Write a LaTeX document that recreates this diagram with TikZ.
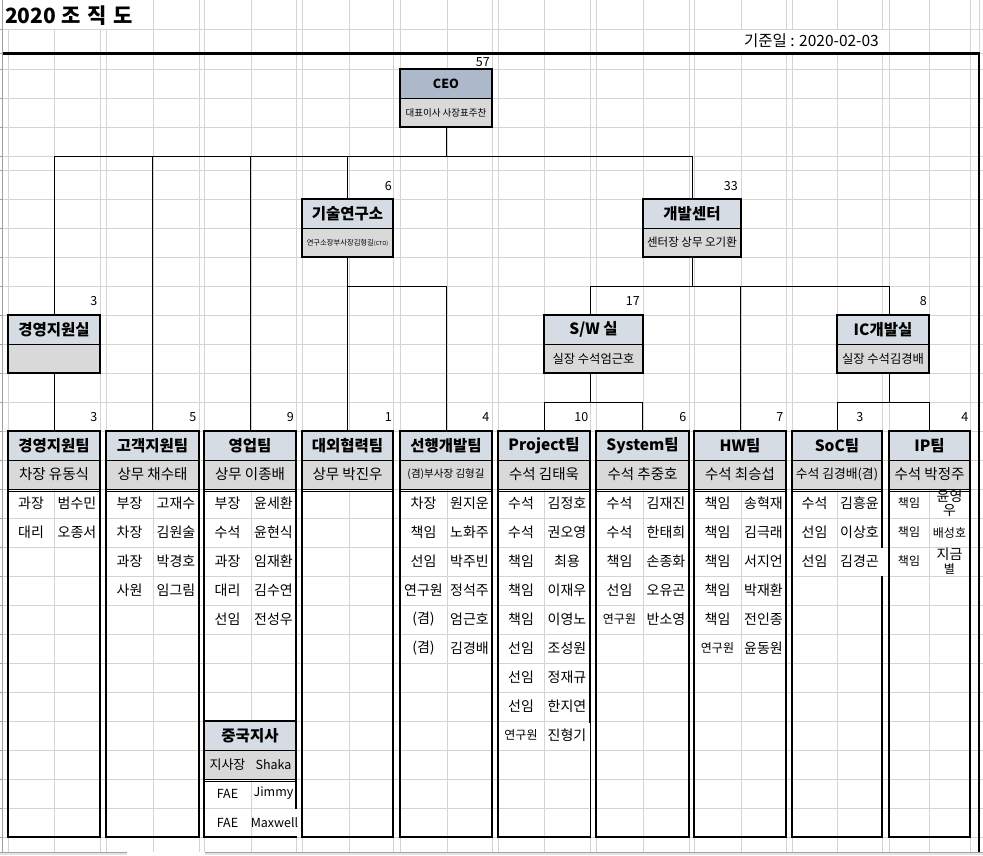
\documentclass[tikz,border=0pt]{standalone}
\usepackage{fontspec}
\setmainfont{Noto Sans CJK KR}
\definecolor{hdrc}{HTML}{D6DCE4}
\definecolor{subc}{HTML}{D9D9D9}
\definecolor{ceoc}{HTML}{ADB9CA}
\definecolor{gridc}{HTML}{D4D4D4}
\definecolor{edgec}{HTML}{A0A0A0}
\definecolor{tabc}{HTML}{E4E4E4}
\newcommand{\smtext}[1]{{\fontsize{12}{12.5}\selectfont #1}}
\newcommand{\teambox}[7]{%
  \pgfmathsetmacro{\tcx}{(#2+#3)/2}%
  \pgfmathsetmacro{\tw}{#3-#2}%
  \node[hd,minimum width=\tw pt] (#1h) at (\tcx,445.5) {#4};
  \node[sb,minimum width=\tw pt] (#1s) at (\tcx,474.5) {#5};
  \draw[dbl] (#2,489) -- (#3,489) (#2,491.6) -- (#3,491.6);
  \draw[thickb] (#2,431) rectangle (#3,837);
  \node[cnt] (#1c) at (#7,417) {#6};
}
\newcommand{\members}[4]{%
  \foreach \rk/\nm [count=\idx] in {#4} {
    \node[mem] (#1r\idx) at (#2,{474.5+29*\idx}) {\rk};
    \node[mem] (#1n\idx) at (#3,{474.5+29*\idx}) {\nm};
  }
}
\newcommand{\upbox}[7]{%
  \pgfmathsetmacro{\tcx}{(#2+#3)/2}%
  \pgfmathsetmacro{\tw}{#3-#2}%
  \node[hd,fill=#7,minimum width=\tw pt] (#1h) at (\tcx,#4+14.5) {#5};
  \node[sb,minimum width=\tw pt] (#1s) at (\tcx,#4+43.5) {#6};
  \draw[thickb] (#1h.north west) rectangle (#1s.south east);
}
\begin{document}
\begin{tikzpicture}[x=1pt,y=-1pt,
  gridline/.style={draw=gridc,line width=1pt},
  box/.style={rectangle,inner sep=0pt,minimum height=29pt,draw=black,line width=0.9pt},
  hd/.style={box,fill=hdrc,font=\bfseries\fontsize{15.5}{17}\selectfont},
  sb/.style={box,fill=subc,font=\fontsize{14.5}{16}\selectfont},
  mem/.style={inner sep=0pt,font=\fontsize{14}{15}\selectfont},
  cnt/.style={inner sep=0pt,anchor=east,font=\fontsize{12.5}{13}\selectfont},
  conn/.style={draw=black,line width=1pt},
  thickb/.style={draw=black,line width=2pt},
  dbl/.style={draw=black,line width=0.8pt}]
\useasboundingbox (0,0) rectangle (983,855);
\fill[white] (0,0) rectangle (983,855);
% spreadsheet grid
\foreach \gx in {8,54,100,106,153,199,204,251,296,302,349,393,400,447,492,498,544,590,596,643,689,694,741,786,792,837,882,889,929,970,979}
  \draw[gridline] (\gx,0) -- (\gx,852);
\foreach \gy in {29,53,69,98,127,156,170,199,228,257,286,315,344,373,402,431,460,489,518,547,576,605,634,663,692,721,750,779,808,837}
  {\draw[gridline] (2.5,\gy) -- (983,\gy);
   \draw[edgec,line width=0.8pt] (0,\gy) -- (2.5,\gy);}
\draw[edgec,line width=1pt] (2.5,0) -- (2.5,852);
\fill[white] (3.2,0) rectangle (152.5,28.5);
\fill[white] (697,29.5) rectangle (886,52.5);
% title and date
\node[anchor=west,inner sep=0pt,font=\bfseries\fontsize{21}{24}\selectfont] (title) at (5,16) {2020\hspace{5pt}조\hspace{7pt}직\hspace{7pt}도};
\node[anchor=east,inner sep=0pt,font=\fontsize{15.5}{18}\selectfont] (date) at (879,40.5) {기준일 : 2020-02-03};
% upper boxes
\upbox{ceo}{400}{492}{69}{\fontsize{12.5}{13}\selectfont CEO}{\fontsize{9.5}{10}\selectfont 대표이사 사장표주찬}{ceoc}
\upbox{lab}{302}{393}{199}{기술연구소}{\fontsize{7.3}{8}\selectfont 연구소장부사장김형길{\fontsize{5.5}{6}\selectfont(CTO)}}{hdrc}
\upbox{dev}{643}{741}{199}{개발센터}{\fontsize{11.5}{12}\selectfont 센터장 상무 오기환}{hdrc}
\upbox{gjs}{8}{100}{315}{경영지원실}{}{hdrc}
\upbox{sw}{544}{643}{315}{S/W 실}{\fontsize{12.3}{13}\selectfont 실장 수석엄근호}{hdrc}
\upbox{ic}{837}{929}{315}{IC개발실}{\fontsize{12.3}{13}\selectfont 실장 수석김경배}{hdrc}
\node[cnt] (ceon) at (490,62.5) {57};
\node[cnt] (labn) at (392,186) {6};
\node[cnt] (devn) at (738,186) {33};
\node[cnt] (gjsn) at (97.5,301) {3};
\node[cnt] (swn) at (640,301) {17};
\node[cnt] (icn) at (927,301) {8};
% teams
\teambox{t1}{8}{100}{경영지원팀}{차장 유동식}{3}{97.5}
\teambox{t2}{106}{199}{고객지원팀}{상무 채수태}{5}{196.5}
\teambox{t3}{204}{296}{영업팀}{상무 이종배}{9}{294}
\teambox{t4}{302}{393}{대외협력팀}{상무 박진우}{1}{392}
\teambox{t5}{400}{492}{선행개발팀}{\fontsize{10.5}{11}\selectfont (겸)부사장 김형길}{4}{489.5}
\teambox{t6}{498}{590}{Project팀}{수석 김태욱}{10}{588.5}
\teambox{t7}{596}{689}{System팀}{수석 추중호}{6}{686.5}
\teambox{t8}{694}{786}{HW팀}{수석 최승섭}{7}{783.5}
\teambox{t9}{792}{882}{SoC팀}{\fontsize{12.8}{14}\selectfont 수석 김경배(겸)}{3}{863.5}
\teambox{t10}{889}{970}{IP팀}{수석 박정주}{4}{968.5}
% overlays of overflowing cells
\draw[white,line width=2.6pt] (590,722.5) -- (590,835.5);
\draw[black,line width=0.9pt] (590,721) -- (590,837);
\fill[white] (878.6,548) rectangle (887.7,575.5);
% members
\members{t1}{31}{77}{과장/범수민,대리/오종서}
\members{t2}{129.5}{176}{부장/고재수,차장/김원술,과장/박경호,사원/임그림}
\members{t3}{227.5}{273.5}{부장/윤세환,수석/윤현식,과장/임재환,대리/김수연,선임/전성우}
\members{t5}{423.5}{469.5}{차장/원지운,책임/노화주,선임/박주빈,연구원/정석주,(겸)/엄근호,(겸)/김경배}
\members{t6}{521}{567}{수석/김정호,수석/권오영,책임/최용,책임/이재우,책임/이영노,선임/조성원,선임/정재규,선임/한지연,\smtext{연구원}/진형기}
\members{t7}{619.5}{666}{수석/김재진,수석/한태희,책임/손종화,선임/오유곤,\smtext{연구원}/반소영}
\members{t8}{717.5}{763.5}{책임/송혁재,책임/김극래,책임/서지언,책임/박재환,책임/전인종,\smtext{연구원}/윤동원}
\members{t9}{814.5}{859.5}{수석/김흥윤,선임/이상호,선임/김경곤}
\node[mem,font=\fontsize{12}{12.5}\selectfont] (t10r1) at (909,503.5) {책임};
\node[mem,align=center,font=\fontsize{14}{14}\selectfont] (t10n1) at (949.5,503.5) {윤영\\우};
\node[mem,font=\fontsize{12}{12.5}\selectfont] (t10r2) at (909,532.5) {책임};
\node[mem,font=\fontsize{12}{12.5}\selectfont] (t10n2) at (949.5,532.5) {배성호};
\node[mem,font=\fontsize{12}{12.5}\selectfont] (t10r3) at (909,561.5) {책임};
\node[mem,align=center,font=\fontsize{14}{14}\selectfont] (t10n3) at (949.5,561.5) {지금\\{\fontsize{12}{12.5}\selectfont 별}};
% China branch
\node[hd,minimum width=92pt] (cnh) at (250,735.5) {중국지사};
\node[sb,minimum width=92pt] (cns) at (250,764.5) {};
\node[mem,font=\fontsize{13}{14}\selectfont] (cnr0) at (227.5,764.5) {지사장};
\node[mem,font=\fontsize{12.5}{14}\selectfont] (cnn0) at (273.5,764.5) {Shaka};
\draw[dbl] (204,779) -- (296,779) (204,781.6) -- (296,781.6);
\draw[thickb] (204,721) rectangle (296,837);
\fill[white] (294.4,809) rectangle (300.5,835.8);
\node[mem,font=\fontsize{12.5}{14}\selectfont] (cnr1) at (227.5,793.5) {FAE};
\node[mem,font=\fontsize{12.5}{14}\selectfont] (cnn1) at (273.5,793.5) {Jimmy};
\node[mem,font=\fontsize{12.5}{14}\selectfont] (cnr2) at (227.5,822.5) {FAE};
\node[mem,font=\fontsize{12.5}{14}\selectfont] (cnn2) at (274.5,822.5) {Maxwell};
% connectors
\coordinate (busA) at (54,156);
\coordinate (busB) at (devh.north |- busA);
\draw[conn] (ceos.south) -- (ceos.south |- busA);
\draw[conn] (busA) -- (busB);
\draw[conn] (busA) -- (gjsh.north);
\draw[conn] (t2h.north |- busA) -- (t2h.north);
\draw[conn] (t3h.north |- busA) -- (t3h.north);
\draw[conn] (labh.north |- busA) -- (labh.north);
\draw[conn] (busB) -- (devh.north);
\draw[conn] (gjss.south) -- (t1h.north);
\coordinate (labbus) at (0,286);
\draw[conn] (labs.south) -- (labs.south |- labbus);
\draw[conn] (t4h.north |- labbus) -- (t5h.north |- labbus);
\draw[conn] (t4h.north |- labbus) -- (t4h.north);
\draw[conn] (t5h.north |- labbus) -- (t5h.north);
\coordinate (swdrop) at (590,286);
\coordinate (icdrop) at (889,286);
\draw[conn] (devs.south) -- (devs.south |- swdrop);
\draw[conn] (swdrop) -- (icdrop);
\draw[conn] (swdrop) -- (swdrop |- swh.north);
\draw[conn] (icdrop) -- (icdrop |- ich.north);
\draw[conn] (t8h.north |- swdrop) -- (t8h.north);
\coordinate (subbus) at (0,402);
\draw[conn] (swdrop |- sws.south) -- (swdrop |- subbus);
\draw[conn] (t6h.north |- subbus) -- (t7h.north |- subbus);
\draw[conn] (t6h.north |- subbus) -- (t6h.north);
\draw[conn] (t7h.north |- subbus) -- (t7h.north);
\draw[conn] (icdrop |- ics.south) -- (icdrop |- subbus);
\draw[conn] (t9h.north |- subbus) -- (t10h.north |- subbus);
\draw[conn] (t9h.north |- subbus) -- (t9h.north);
\draw[conn] (t10h.north |- subbus) -- (t10h.north);
% frame and sheet tab bar
\draw[black,line width=2.2pt] (3,53.5) -- (979,53.5) -- (979,852);
\fill[tabc] (0,852) rectangle (127,855);
\fill[tabc] (205,852) rectangle (983,855);
\draw[edgec,line width=1pt] (0,852) -- (127,852) (205,852) -- (983,852);
\end{tikzpicture}
\end{document}
